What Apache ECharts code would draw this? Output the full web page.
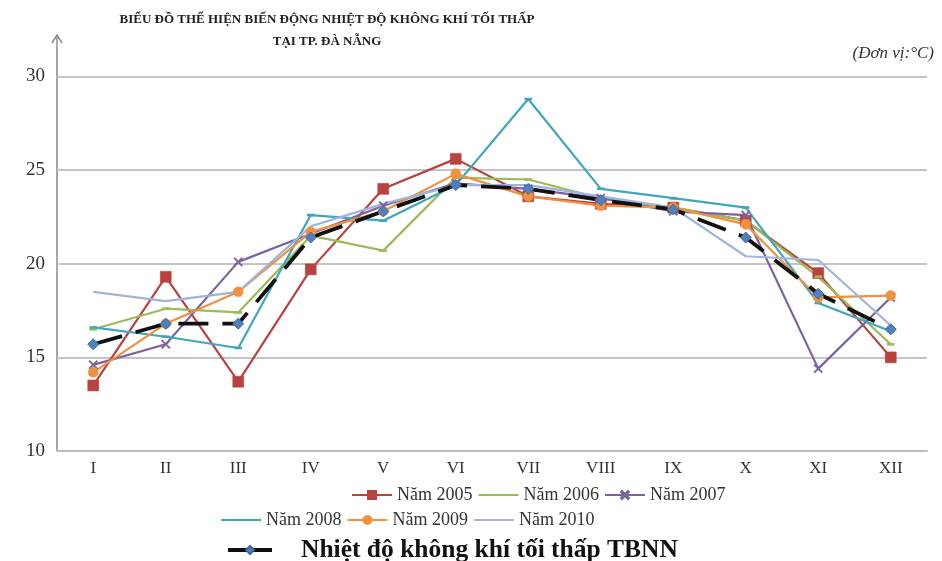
<!DOCTYPE html>
<html>
<head>
<meta charset="utf-8">
<script src="https://cdn.jsdelivr.net/npm/echarts@6/dist/echarts.min.js"></script>
<style>
  html, body { margin: 0; padding: 0; background: #fff; }
  #chart { width: 942px; height: 561px; }
</style>
</head>
<body>
<div id="chart"></div>
<script>
// Monthly mean minimum air temperature, Da Nang (°C)
const months = ['I', 'II', 'III', 'IV', 'V', 'VI', 'VII', 'VIII', 'IX', 'X', 'XI', 'XII'];
const yearNames = ['Năm 2005', 'Năm 2006', 'Năm 2007', 'Năm 2008', 'Năm 2009', 'Năm 2010'];
const nam2005 = [13.5, 19.3, 13.7, 19.7, 24.0, 25.6, 23.6, 23.2, 23.0, 22.3, 19.5, 15.0];
const nam2006 = [16.5, 17.6, 17.4, 21.5, 20.7, 24.6, 24.5, 23.5, 23.0, 22.3, 19.3, 15.7];
const nam2007 = [14.6, 15.7, 20.1, 21.6, 23.1, 24.3, 24.0, 23.5, 22.8, 22.6, 14.4, 18.2];
const nam2008 = [16.6, 16.1, 15.5, 22.6, 22.3, 24.2, 28.8, 24.0, 23.5, 23.0, 17.9, 16.4];
const nam2009 = [14.2, 16.8, 18.5, 21.7, 22.8, 24.8, 23.6, 23.1, 23.0, 22.1, 18.2, 18.3];
const nam2010 = [18.5, 18.0, 18.5, 22.0, 23.2, 24.2, 24.2, 23.6, 23.0, 20.4, 20.2, 16.7];
const tbnnName = 'Nhiệt độ không khí tối thấp TBNN';
const tbnn = [15.7, 16.8, 16.8, 21.4, 22.8, 24.2, 24.0, 23.4, 22.9, 21.4, 18.4, 16.5];
const yTicks = [10, 15, 20, 25, 30];

const serif = '"Liberation Serif", "DejaVu Serif", serif';
const xMark = 'path://M0,1.2L1.2,0L5,3.8L8.8,0L10,1.2L6.2,5L10,8.8L8.8,10L5,6.2L1.2,10L0,8.8L3.8,5Z';

function yearSeries(name, data, color, symbol, size) {
  return {
    name: name,
    type: 'line',
    data: data,
    symbol: symbol,
    symbolSize: size,
    showSymbol: symbol !== 'none',
    lineStyle: { color: color, width: 2.2 },
    itemStyle: { color: color, borderColor: color, borderWidth: 0.5 },
    emphasis: { disabled: true },
    animation: false
  };
}

const chart = echarts.init(document.getElementById('chart'), null, { renderer: 'canvas' });

const legendText = { fontFamily: serif, fontSize: 18, color: '#333' };
// series whose legend icon is a plain line
const plainIcon = { itemStyle: { opacity: 0 } };

chart.setOption({
  backgroundColor: '#fff',
  title: [
    {
      text: 'BIỂU ĐỒ THỂ HIỆN BIẾN ĐỘNG NHIỆT ĐỘ KHÔNG KHÍ TỐI THẤP\nTẠI TP. ĐÀ NẴNG',
      left: 322, top: 4, textAlign: 'center',
      textStyle: { fontFamily: serif, fontWeight: 'bold', fontSize: 13, lineHeight: 22, color: '#222' }
    },
    {
      text: '(Đơn vị:°C)',
      right: 3, top: 40,
      textStyle: { fontFamily: serif, fontStyle: 'italic', fontWeight: 'normal', fontSize: 17, color: '#333' }
    }
  ],
  grid: { left: 57, right: 15, top: 76.5, bottom: 110 },
  xAxis: {
    type: 'category',
    data: months,
    boundaryGap: true,
    axisLine: { show: true, lineStyle: { color: '#bdbdbd', width: 2 } },
    axisTick: { show: false },
    axisLabel: { fontFamily: serif, fontSize: 17, color: '#333', margin: 9 }
  },
  yAxis: {
    type: 'value',
    min: yTicks[0], max: yTicks[yTicks.length - 1], interval: 5,
    axisLine: { show: false },
    axisTick: { show: false },
    axisLabel: { fontFamily: serif, fontSize: 19, color: '#333', margin: 12 },
    splitLine: { lineStyle: { color: '#c4c4c4', width: 2 } }
  },
  legend: [
    {
      data: [yearNames[0], Object.assign({ name: yearNames[1] }, plainIcon), yearNames[2]],
      left: 346, top: 481, itemWidth: 40, itemHeight: 10, itemGap: 5,
      textStyle: legendText, selectedMode: false
    },
    {
      data: [Object.assign({ name: yearNames[3] }, plainIcon), yearNames[4], Object.assign({ name: yearNames[5] }, plainIcon)],
      left: 215, top: 506, itemWidth: 40, itemHeight: 10, itemGap: 5,
      textStyle: legendText, selectedMode: false
    },
    {
      data: [{ name: tbnnName, lineStyle: { type: 'solid', width: 4 } }],
      left: 221, top: 532, itemWidth: 44, itemHeight: 10, itemGap: 3,
      textStyle: { fontFamily: serif, fontSize: 25.5, fontWeight: 'bold', color: '#111', padding: [0, 0, 0, 24] },
      selectedMode: false
    }
  ],
  graphic: [
    {
      type: 'line',
      shape: { x1: 57, y1: 451, x2: 57, y2: 36 },
      style: { stroke: '#8a8a8a', lineWidth: 1.5 },
      silent: true
    },
    {
      type: 'polyline',
      shape: { points: [[52, 43], [57, 35], [62, 43]] },
      style: { stroke: '#8a8a8a', lineWidth: 1.5, fill: null },
      silent: true
    }
  ],
  series: [
    yearSeries(yearNames[0], nam2005, '#b8423d', 'rect', 11),
    yearSeries(yearNames[1], nam2006, '#9bbb59', 'rect', [6, 2]),
    yearSeries(yearNames[2], nam2007, '#7d62a0', xMark, 9),
    yearSeries(yearNames[3], nam2008, '#3fa6bd', 'rect', [6, 2]),
    yearSeries(yearNames[4], nam2009, '#f0913f', 'circle', 10),
    yearSeries(yearNames[5], nam2010, '#9fb4dc', 'none', 0),
    {
      name: tbnnName,
      type: 'line',
      data: tbnn,
      symbol: 'diamond',
      symbolSize: 11,
      lineStyle: { color: '#111', width: 3.8, type: [30, 14] },
      itemStyle: { color: '#4f81bd', borderColor: '#3a6aa5', borderWidth: 1 },
      emphasis: { disabled: true },
      animation: false,
      z: 3
    }
  ]
});
</script>
</body>
</html>
